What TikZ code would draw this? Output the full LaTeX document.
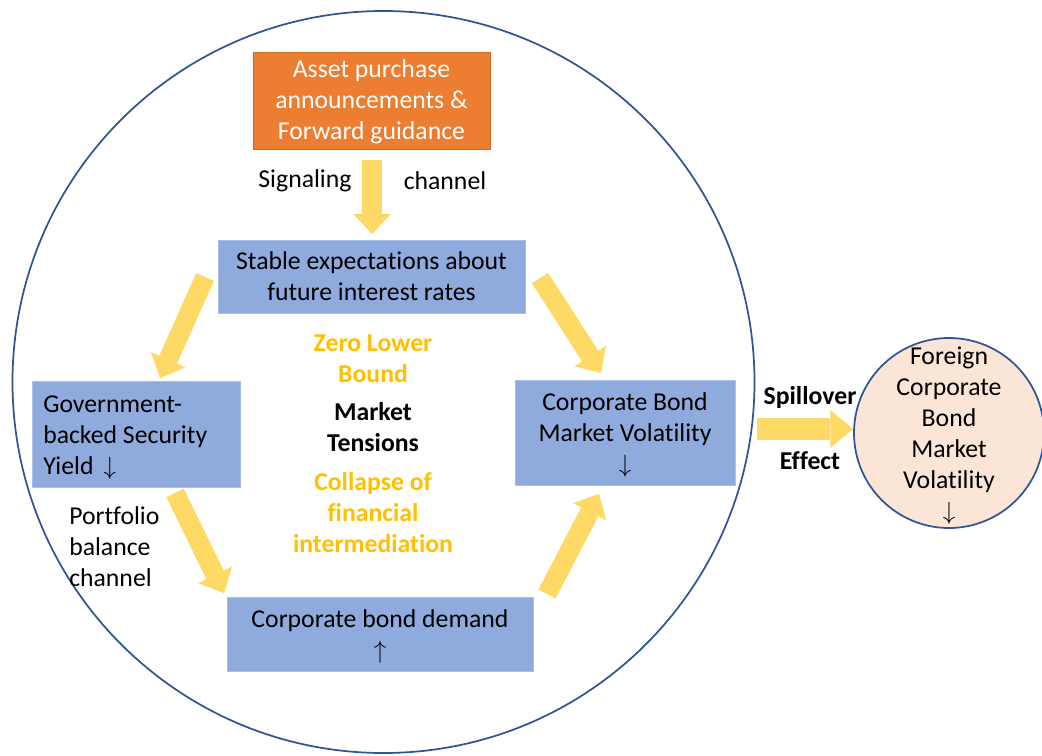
\documentclass[tikz,border=0pt]{standalone}
\usepackage{fontspec}
\setmainfont{Carlito}[Ligatures=NoCommon]
\usetikzlibrary{arrows.meta}
\definecolor{boxblue}{HTML}{8FAADC}
\definecolor{boxedge}{HTML}{A9C0E8}
\definecolor{orng}{HTML}{ED7D31}
\definecolor{orngedge}{HTML}{D06A26}
\definecolor{arrowyel}{HTML}{FFD966}
\definecolor{goldtxt}{HTML}{FFC000}
\definecolor{ringblue}{HTML}{2F5597}
\definecolor{peach}{HTML}{FBE5D6}
\newcommand{\dnarr}{\raisebox{0pt}[0pt][0pt]{\scalebox{0.9}{$\downarrow$}}}
\newcommand{\uparr}{\raisebox{0pt}[0pt][0pt]{\scalebox{0.9}{$\uparrow$}}}
\begin{document}
\begin{tikzpicture}[x=0.75pt,y=-0.75pt,
  every node/.style={font=\fontsize{19.3}{23.25}\selectfont, inner sep=0pt},
  bluebox/.style={draw=boxedge, line width=0.75pt, fill=boxblue, align=center},
  orangebox/.style={draw=orngedge, line width=0.75pt, fill=orng, text=white, align=center},
  fatarrow/.style={draw=arrowyel, line width=14.5pt, -{Triangle[length=15pt,width=28pt,line width=0.01pt]}},
  goldbold/.style={text=goldtxt, font=\fontsize{19.3}{23.25}\selectfont\bfseries, align=center},
  blackbold/.style={text=black, font=\fontsize{19.3}{23.25}\selectfont\bfseries, align=center},
  ring/.style={circle, draw=ringblue, line width=1.3pt}]
\useasboundingbox (0,0) rectangle (1042,756);

% big circle
\node[ring, minimum size=556.5pt] (big) at (383.5,382) {};

% boxes
\node[orangebox, minimum width=177.75pt, minimum height=72.75pt] (asset) at (371.5,101.5)
  {Asset purchase\\announcements \&\\Forward guidance};
\node[bluebox, minimum width=230.25pt, minimum height=54.75pt] (stable) at (371.5,276.5)
  {Stable expectations about\\future interest rates};
\node[bluebox, minimum width=156pt, minimum height=79.5pt] (gov) at (136,434) {};
\node[anchor=west, align=left] (govtxt) at (43,435)
  {Government-\\backed Security\\Yield\, \dnarr};
\node[bluebox, minimum width=165pt, minimum height=78.75pt] (cbmv) at (625,432.5)
  {Corporate Bond\\Market Volatility\\\dnarr};
\node[bluebox, minimum width=229.5pt, minimum height=55.5pt] (cbd) at (380,634)
  {Corporate bond demand\\\uparr};

% foreign circle
\node[ring, fill=peach, minimum size=142.5pt] (frn) at (949,433) {};
\node[align=center] (frntxt) at (frn.center) {Foreign\\Corporate\\Bond\\Market\\Volatility\\\dnarr};

% centre texts
\node[goldbold] (zlb) at (373,358.5) {Zero Lower\\Bound};
\node[blackbold] (mt) at (373,427.5) {Market\\Tensions};
\node[goldbold] (cfi) at (373,513) {Collapse of\\financial\\intermediation};

% channel labels
\node (sig) at (305,181) {Signaling};
\node (chn) at (445,181) {channel};
\node[anchor=west, align=left] (pbc) at (69,547) {Portfolio\\balance\\channel};
\node[blackbold] (spill) at (810,397) {Spillover};
\node[blackbold] (eff) at (810,461) {Effect};

% arrow end points
\coordinate (s1) at (372,160);
\coordinate (s2) at (372,234);
\coordinate (tl1) at (205,277);
\coordinate (tl2) at (160,378);
\coordinate (tr1) at (540,278);
\coordinate (tr2) at (601,373);
\coordinate (bl1) at (175,493);
\coordinate (bl2) at (224,593);
\coordinate (br1) at (547,594);
\coordinate (br2) at (599,494);
\coordinate (sp1) at (757,429);
\coordinate (sp2) at (frn.west);

% arrows
\draw[fatarrow] (s1) -- (s2);
\draw[fatarrow] (tl1) -- (tl2);
\draw[fatarrow] (tr1) -- (tr2);
\draw[fatarrow] (bl1) -- (bl2);
\draw[fatarrow] (br1) -- (br2);
\draw[fatarrow, line width=16pt, -{Triangle[length=17pt,width=28pt,line width=0.01pt]}] (sp1) -- (sp1 -| sp2);
\end{tikzpicture}
\end{document}
